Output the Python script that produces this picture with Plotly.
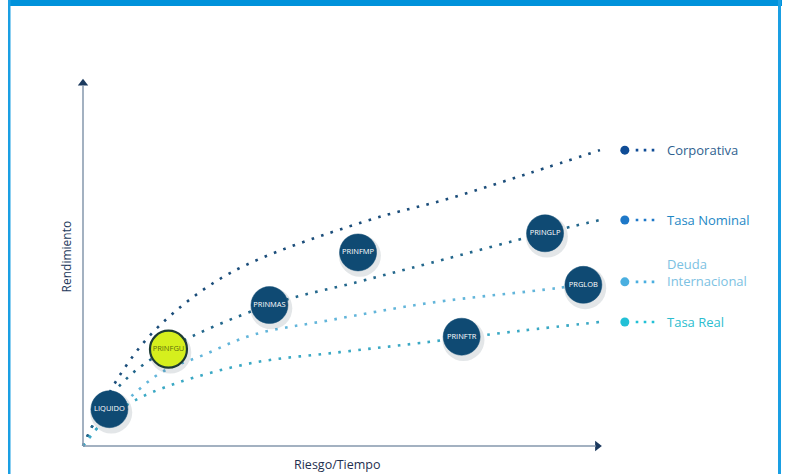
import plotly.graph_objects as go

# ---- data (Riesgo 0-100, Rendimiento 0-100) ----
series_names = ["Corporativa", "Tasa Nominal", "Deuda Internacional", "Tasa Real"]
legend_labels = ["Corporativa", "Tasa Nominal", "Deuda<br>Internacional", "Tasa Real"]

corp_x = [0, 1.9, 7.5, 14.7, 28.4, 54.1, 70.8, 86.3, 99.8]
corp_y = [0, 5.7, 20.1, 32.6, 47.0, 60.9, 67.3, 74.2, 80.4]

nom_x = [0, 3.3, 8.1, 16.4, 35.9, 53.1, 67.0, 89.2, 99.8]
nom_y = [0, 9.2, 17.9, 26.4, 38.3, 44.6, 49.7, 57.9, 61.4]

deuda_x = [0, 4.2, 8.5, 14.9, 23.2, 32.8, 47.7, 67.0, 91.5, 99.8]
deuda_y = [0, 7.1, 12.5, 19.8, 24.7, 30.2, 34.2, 38.9, 42.9, 44.6]

real_x = [0, 3.3, 9.5, 18.1, 32.8, 49.6, 65.1, 84.4, 99.8]
real_y = [0, 5.7, 12.0, 17.1, 22.6, 25.5, 28.0, 31.3, 33.7]

fund_names = ["LIQUIDO", "PRINFGU", "PRINMAS", "PRINFMP", "PRINGLP", "PRGLOB", "PRINFTR"]
fund_x = [5.1, 16.5, 36.0, 53.1, 89.2, 96.6, 73.1]
fund_y = [10.0, 26.3, 38.3, 52.6, 57.8, 43.8, 29.7]

# ---- styles ----
line_colors = ["#1b4d7a", "#23678c", "#62b5da", "#3aa8c4"]
legend_dot_colors = ["#0f4c96", "#1e78c8", "#4aafe0", "#22c0d6"]
legend_text_colors = ["#2f5f8f", "#1e88c6", "#7cc1e2", "#2cbdcf"]
navy = "#0f4a73"
highlight = "#d5ef1d"
font = "Open Sans"

# pixel mapping: origin at (83,446); 100 units = 518 px (x), 368 px (y)
SX, SY = 5.18, 3.68
OX, OY = 83, 446
W, H = 788, 474
x_range = [(0 - OX) / SX, (W - OX) / SX]
y_range = [(OY - H) / SY, (OY - 0) / SY]

fig = go.Figure()

series = [(corp_x, corp_y), (nom_x, nom_y), (deuda_x, deuda_y), (real_x, real_y)]
for (xs, ys), name, col in zip(series, series_names, line_colors):
    fig.add_trace(go.Scatter(
        x=xs, y=ys, mode="lines", name=name,
        line=dict(color=col, width=2.6, dash="2.6px,7.4px", shape="spline", smoothing=1.0),
        hoverinfo="skip", showlegend=False))

# legend-like labels at the end of each series
for (xs, ys), label, dcol, tcol in zip(series, legend_labels, legend_dot_colors, legend_text_colors):
    lx = xs[-1] + 4.8
    ly = ys[-1]
    fig.add_trace(go.Scatter(x=[lx], y=[ly], mode="markers",
                             marker=dict(size=9, color=dcol), hoverinfo="skip", showlegend=False))
    fig.add_shape(type="line", x0=lx + 2.1, x1=lx + 6.0, y0=ly, y1=ly,
                  line=dict(color=dcol, width=2.6, dash="2.6px,5.4px"))
    two_lines = "<br>" in label
    fig.add_annotation(x=lx + 7.8, y=ly, text=label, showarrow=False, xanchor="left",
                       yanchor="middle", align="left", yshift=9 if two_lines else 0,
                       font=dict(family=font, size=13, color=tcol))

# axes lines
axis_col = "#8597ad"
fig.add_shape(type="line", x0=0, y0=0, x1=99, y1=0, line=dict(color=axis_col, width=1.5))
fig.add_shape(type="line", x0=0, y0=0, x1=0, y1=98, line=dict(color=axis_col, width=1.5))
fig.add_trace(go.Scatter(x=[99.3], y=[0], mode="markers",
                         marker=dict(symbol="triangle-right", size=9, color="#1c3a5e"),
                         hoverinfo="skip", showlegend=False))
fig.add_trace(go.Scatter(x=[0], y=[98.6], mode="markers",
                         marker=dict(symbol="triangle-up", size=9, color="#1c3a5e"),
                         hoverinfo="skip", showlegend=False))

# bubble shadows
fig.add_trace(go.Scatter(x=[v + 0.35 for v in fund_x], y=[v - 0.9 for v in fund_y], mode="markers",
                         marker=dict(size=42, color="rgba(40,60,80,0.13)", line=dict(width=0)),
                         hoverinfo="skip", showlegend=False))

fill_colors = [highlight if n == "PRINFGU" else navy for n in fund_names]
border_colors = ["#1d3b33" if n == "PRINFGU" else navy for n in fund_names]
border_widths = [2.2 if n == "PRINFGU" else 0.5 for n in fund_names]
text_colors = ["#5d700c" if n == "PRINFGU" else "white" for n in fund_names]
fig.add_trace(go.Scatter(
    x=fund_x, y=fund_y, mode="markers+text", text=fund_names, textposition="middle center",
    textfont=dict(family=font, size=7.5, color=text_colors),
    marker=dict(size=37, color=fill_colors, line=dict(color=border_colors, width=border_widths)),
    hoverinfo="skip", showlegend=False))

# axis titles
fig.add_annotation(x=-3.1, y=51.5, text="Rendimiento", textangle=-90, showarrow=False,
                   font=dict(family=font, size=12, color="#23395b"))
fig.add_annotation(x=49.1, y=-5.1, text="Riesgo/Tiempo", showarrow=False,
                   font=dict(family=font, size=12.5, color="#1f3050"))

# frame
frame_col = "#0092db"
fig.add_shape(type="rect", xref="paper", yref="paper", x0=8 / W, x1=782 / W,
              y0=1 - 6 / H, y1=1, fillcolor=frame_col, line=dict(width=0), layer="above")
fig.add_shape(type="rect", xref="paper", yref="paper", x0=8 / W, x1=10.5 / W,
              y0=0, y1=1, fillcolor="#1a9fe3", line=dict(width=0), layer="above")
fig.add_shape(type="rect", xref="paper", yref="paper", x0=778 / W, x1=781 / W,
              y0=0, y1=1, fillcolor="#1a9fe3", line=dict(width=0), layer="above")

fig.update_layout(
    width=W, height=H, margin=dict(l=0, r=0, t=0, b=0),
    paper_bgcolor="white", plot_bgcolor="white",
    xaxis=dict(range=x_range, visible=False, fixedrange=True),
    yaxis=dict(range=y_range, visible=False, fixedrange=True),
    showlegend=False,
)

fig.write_html("out.html")
